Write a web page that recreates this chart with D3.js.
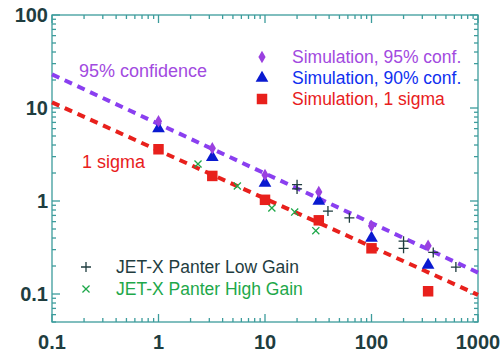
<!DOCTYPE html>
<html>
<head>
<meta charset="utf-8">
<script src="https://cdn.jsdelivr.net/npm/d3@7"></script>
<style>
  body { margin: 0; background: #fff; }
  svg { font-family: "Liberation Sans", Arial, sans-serif; }
</style>
</head>
<body>
<svg id="chart" width="501" height="354"></svg>
<script>
// values
let simX = [1, 3.2, 10, 32, 100, 340];
let sim95 = [7.2, 3.7, 1.9, 1.25, 0.54, 0.33];
let sim90 = [6.0, 2.95, 1.56, 1.0, 0.40, 0.205];
let sim1s = [3.6, 1.86, 1.03, 0.62, 0.31, 0.107];

let lowGainX = [20, 20, 39, 62, 200, 200, 380, 620];
let lowGainY = [1.5, 1.35, 0.78, 0.66, 0.37, 0.31, 0.28, 0.195];
let highGainX = [2.35, 5.5, 11.6, 19, 30];
let highGainY = [2.5, 1.45, 0.84, 0.76, 0.48];

let fitX = [0.1, 1000];
let fit95 = [23, 0.17];
let fit1s = [11.5, 0.098];

let xTicks = [0.1, 1, 10, 100, 1000];
let yTicks = [0.1, 1, 10, 100];

let margin = {top: 15, right: 23, bottom: 32, left: 52};
let width = 501, height = 354;

let teal = "#3c9c9c";
let purple = "#9a40e0";
let blue = "#0a1ad0";
let red = "#e8201c";
let green = "#1ea84a";
let dark = "#1f3d3f";

let svg = d3.select("#chart");

let x = d3.scaleLog().domain([0.1, 1000]).range([margin.left, width - margin.right]);
let y = d3.scaleLog().domain([0.05, 100]).range([height - margin.bottom, margin.top]);

let x0 = margin.left, x1 = width - margin.right;
let y0 = height - margin.bottom, y1 = margin.top;

// minor + major tick values
let xMinor = [];
for (let d = 0.1; d < 1000; d *= 10)
    for (let k = 2; k <= 9; k++) xMinor.push(d * k);
let yMinor = [];
for (let d = 0.01; d < 100; d *= 10)
    for (let k = 2; k <= 9; k++) if (d * k >= 0.05) yMinor.push(d * k);

let axes = svg.append("g").attr("stroke", teal).attr("stroke-width", 1.3);

function drawTicks(vals, len) {
    vals.forEach(function (v) {
        axes.append("line").attr("x1", x(v)).attr("x2", x(v)).attr("y1", y0).attr("y2", y0 - len);
        axes.append("line").attr("x1", x(v)).attr("x2", x(v)).attr("y1", y1).attr("y2", y1 + len);
    });
}
function drawYTicks(vals, len) {
    vals.forEach(function (v) {
        axes.append("line").attr("y1", y(v)).attr("y2", y(v)).attr("x1", x0).attr("x2", x0 + len);
        axes.append("line").attr("y1", y(v)).attr("y2", y(v)).attr("x1", x1).attr("x2", x1 - len);
    });
}
drawTicks(xMinor, 4);
drawTicks(xTicks, 8);
drawYTicks(yMinor, 4);
drawYTicks(yTicks, 8);

axes.append("rect")
    .attr("x", x0).attr("y", y1)
    .attr("width", x1 - x0).attr("height", y0 - y1)
    .attr("fill", "none");

// tick labels
svg.append("g").selectAll("text").data(xTicks).join("text")
    .attr("x", function (d) { return x(d); })
    .attr("y", 349)
    .attr("text-anchor", "middle")
    .attr("font-size", 20).attr("font-weight", "bold").attr("fill", dark)
    .text(function (d) { return d3.format("~g")(d); });

svg.append("g").selectAll("text").data(yTicks).join("text")
    .attr("x", 48)
    .attr("y", function (d) { return y(d) + 7; })
    .attr("text-anchor", "end")
    .attr("font-size", 20).attr("font-weight", "bold").attr("fill", dark)
    .text(function (d) { return d3.format("~g")(d); });

// fitted dashed lines
let line = d3.line().x(function (d) { return x(d[0]); }).y(function (d) { return y(d[1]); });

svg.append("path")
    .attr("d", line(d3.zip(fitX, fit95)))
    .attr("stroke", "#8a3ff0").attr("stroke-width", 4)
    .attr("stroke-dasharray", "8,6").attr("fill", "none");
svg.append("path")
    .attr("d", line(d3.zip(fitX, fit1s)))
    .attr("stroke", red).attr("stroke-width", 4)
    .attr("stroke-dasharray", "8,6").attr("fill", "none");

// JET-X points
function cross(sel, col, rot) {
    sel.append("path").attr("d", "M-5,0H5M0,-5V5")
        .attr("transform", function (d) { return "translate(" + d[0] + "," + d[1] + ") rotate(" + rot + ")"; })
        .attr("stroke", col).attr("stroke-width", 1.3).attr("fill", "none");
}
let lowG = svg.append("g").selectAll("g")
    .data(d3.zip(lowGainX, lowGainY).map(function (d) { return [x(d[0]), y(d[1])]; }))
    .join("g");
cross(lowG, dark, 0);
let highG = svg.append("g").selectAll("g")
    .data(d3.zip(highGainX, highGainY).map(function (d) { return [x(d[0]), y(d[1])]; }))
    .join("g");
cross(highG, green, 45);

// simulation points
function symbols(vals, type, size, col) {
    svg.append("g").selectAll("path")
        .data(d3.zip(simX, vals))
        .join("path")
        .attr("d", d3.symbol().type(type).size(size))
        .attr("transform", function (d) { return "translate(" + x(d[0]) + "," + y(d[1]) + ")"; })
        .attr("fill", col);
}
symbols(sim1s, d3.symbolSquare, 110, red);
symbols(sim90, d3.symbolTriangle, 70, blue);
symbols(sim95, d3.symbolDiamond, 45, purple);

// annotations
svg.append("text").attr("x", 79).attr("y", 77)
    .attr("font-size", 18).attr("fill", "#a24ae0").text("95% confidence");
svg.append("text").attr("x", 82).attr("y", 168)
    .attr("font-size", 18).attr("fill", red).text("1 sigma");

// legend upper right
let legTop = [
    {label: "Simulation, 95% conf.", col: "#a24ae0", sym: d3.symbolDiamond, size: 45, fill: purple},
    {label: "Simulation, 90% conf.", col: "#1030f0", sym: d3.symbolTriangle, size: 70, fill: blue},
    {label: "Simulation, 1 sigma", col: red, sym: d3.symbolSquare, size: 110, fill: red}
];
legTop.forEach(function (d, i) {
    let yy = 57 + i * 21;
    svg.append("path").attr("d", d3.symbol().type(d.sym).size(d.size)())
        .attr("transform", "translate(262," + yy + ")").attr("fill", d.fill);
    svg.append("text").attr("x", 292).attr("y", yy + 6)
        .attr("font-size", 17.5).attr("fill", d.col).text(d.label);
});

// legend lower left
let legLow = [
    {label: "JET-X Panter Low Gain", col: dark, rot: 0},
    {label: "JET-X Panter High Gain", col: green, rot: 45}
];
legLow.forEach(function (d, i) {
    let yy = 267 + i * 22;
    let g = svg.append("g").selectAll("g").data([[86, yy]]).join("g");
    cross(g, d.col, d.rot);
    svg.append("text").attr("x", 116).attr("y", yy + 6)
        .attr("font-size", 17.5).attr("fill", d.col).text(d.label);
});
</script>
</body>
</html>
